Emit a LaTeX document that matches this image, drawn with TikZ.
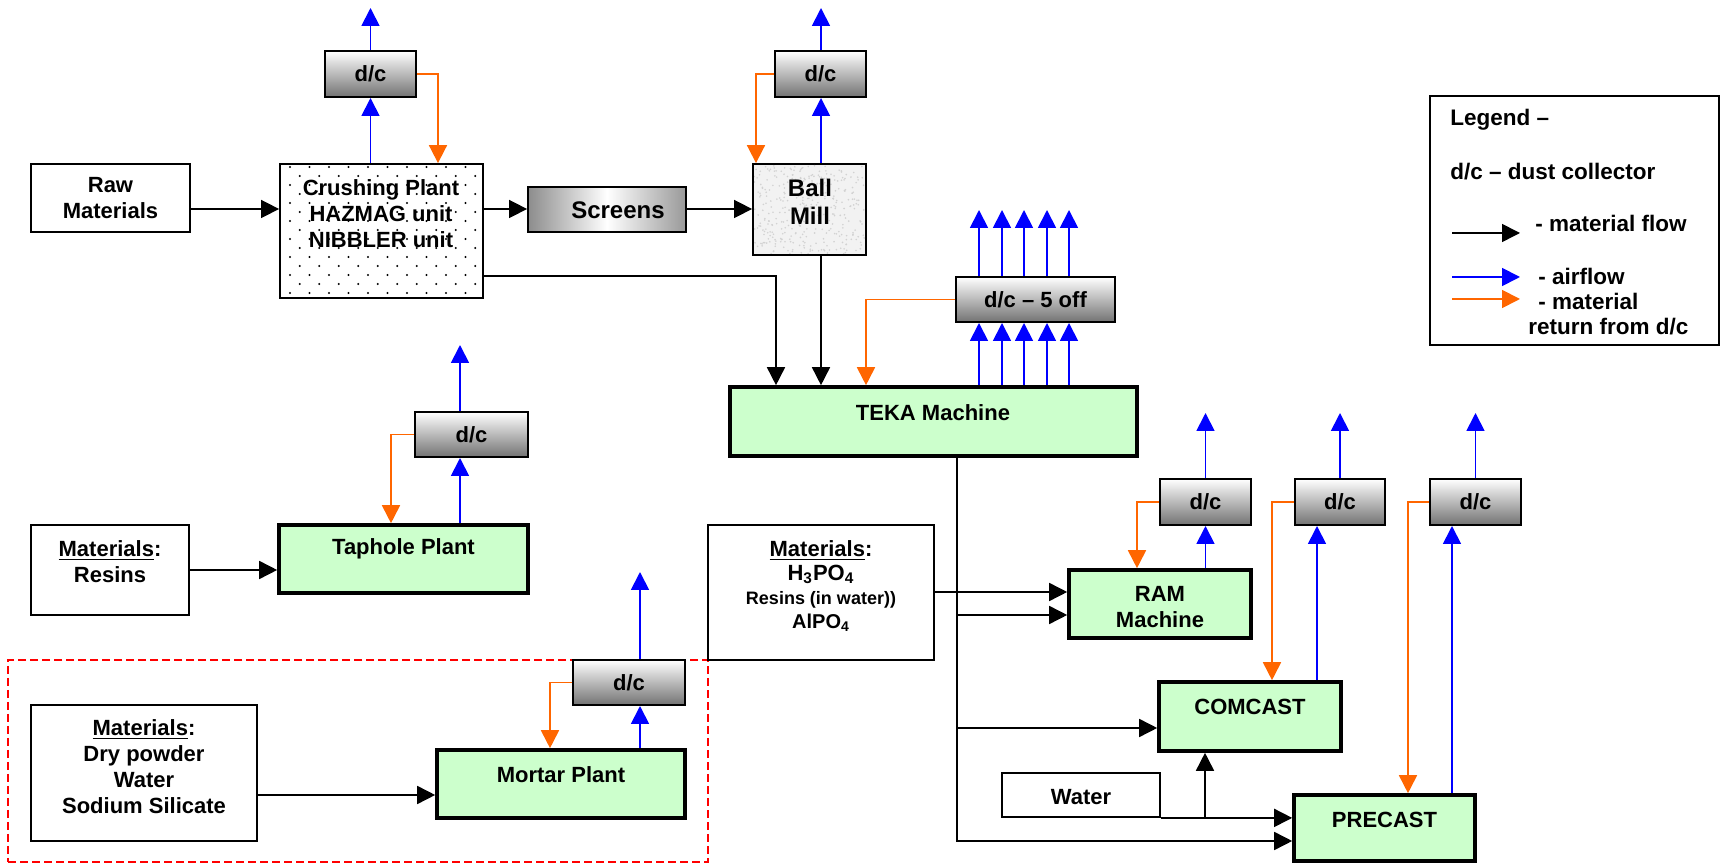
\documentclass[tikz,border=0pt]{standalone}
\usepackage{fontspec}
\setmainfont{Liberation Sans}
\usetikzlibrary{arrows.meta,fit}
\definecolor{grn}{HTML}{CCFFCC}
\definecolor{orng}{HTML}{FF6600}
\definecolor{airblue}{HTML}{0000FF}
\definecolor{dashred}{HTML}{FF0000}
\begin{document}
\begin{tikzpicture}[x=0.5pt,y=-0.5pt,
  every node/.style={font=\bfseries\fontsize{11}{13}\selectfont},
  bx/.style={draw, line width=0.9pt, inner sep=0pt},
  plant/.style={bx, fill=grn, line width=1.8pt},
  dcbox/.style={bx, line width=1pt, top color=white, bottom color=black!55},
  arrowtip/.style={-{Triangle[length=9pt,width=9pt]}},
  mflow/.style={arrowtip, draw=black, line width=0.8pt},
  air/.style={arrowtip, draw=airblue, line width=0.9pt},
  ret/.style={arrowtip, draw=orng, line width=0.9pt},
  big/.style={font=\bfseries\fontsize{12}{14}\selectfont},
  lgd/.style={anchor=west, inner sep=0pt, font=\bfseries\fontsize{11.25}{13}\selectfont}]
\useasboundingbox (0,0) rectangle (1721,865);

% level coordinates
\coordinate (top) at (0,8);
\coordinate (h209) at (0,209);
\coordinate (h210) at (0,210);
\coordinate (h276) at (0,276);
\coordinate (h345) at (0,345);
\coordinate (h413) at (0,413);
\coordinate (h570) at (0,570);
\coordinate (h572) at (0,572);
\coordinate (h592) at (0,592);
\coordinate (h615) at (0,615);
\coordinate (h728) at (0,728);
\coordinate (h795) at (0,795);
\coordinate (h841) at (0,841);
\coordinate (v391) at (391,0);
\coordinate (v438) at (438,0);
\coordinate (v460) at (460,0);
\coordinate (v550) at (550,0);
\coordinate (v640) at (640,0);
\coordinate (v756) at (756,0);
\coordinate (v776) at (776,0);
\coordinate (v821) at (821,0);
\coordinate (v866) at (866,0);
\coordinate (v957) at (957,0);
\coordinate (v1137) at (1137,0);
\coordinate (v1205) at (1205,0);
\coordinate (v1272) at (1272,0);
\coordinate (v1317) at (1317,0);
\coordinate (v1408) at (1408,0);
\coordinate (v1452) at (1452,0);

% ---------- top row ----------
\node[bx, fit={(31,164)(190,232)}] (raw) {};
\node[align=center] (rawT) at (raw.center) {Raw\\Materials};
\node[bx, fit={(280,164)(483,298)}] (crush) {};
\begin{scope}
  \clip (283,166) rectangle (480,296);
  \foreach \j in {0,...,14}{
    \foreach \i in {0,...,10}{
      \fill ({290+19.5*\i+mod(\j,2)*9.75},{167+9*\j}) circle (0.55pt);
    }
  }
\end{scope}
\node[align=center] (crushT) at (381,214) {Crushing Plant\\HAZMAG unit\\NIBBLER unit};
\node[dcbox, fit={(325,51)(416,97)}] (crushdc) {};
\node (crushdcT) at (crushdc.center) {d/c};

\node[bx, fit={(528,187)(686,232)}, left color=black!45, right color=black!40, middle color=white] (screens) {};
\node[big] (screensT) at (618,210) {Screens};

\node[bx, fit={(753,164)(866,255)}, fill=gray!10] (ball) {};
\begin{scope}
  \clip (754,165) rectangle (865,254);
  \pgfmathsetseed{7}
  \foreach \k in {1,...,350}{
    \pgfmathsetmacro\rx{754+111*rnd}
    \pgfmathsetmacro\ry{165+89*rnd}
    \fill[gray!35] (\rx,\ry) circle (0.45pt);
  }
\end{scope}
\node[big, align=center] (ballT) at (810,202) {Ball\\Mill};
\node[dcbox, fit={(775,51)(866,97)}] (balldc) {};
\node (balldcT) at (balldc.center) {d/c};

\node[dcbox, fit={(956,277)(1115,322)}] (dc5) {};
\node (dc5T) at (dc5.center) {d/c – 5 off};
\node[plant, fit={(730,387)(1137,456)}] (teka) {};
\node (tekaT) at (933,413) {TEKA Machine};

% top connectors
\draw[mflow] (raw.east |- h209) -- (crush.west |- h209);
\draw[mflow] (crush.east |- h209) -- (screens.west |- h209);
\draw[mflow] (screens.east |- h209) -- (ball.west |- h209);
\draw[mflow] (crush.east |- h276) -| (v776 |- teka.north);
\draw[mflow] (v821 |- ball.south) -- (v821 |- teka.north);
\draw[air] (crushdc.south |- crush.north) -- (crushdc.south);
\draw[air] (crushdc.north) -- (crushdc.north |- top);
\draw[ret] (crushdc.east) -| (v438 |- crush.north);
\draw[air] (v821 |- ball.north) -- (v821 |- balldc.south);
\draw[air] (v821 |- balldc.north) -- (v821 |- top);
\draw[ret] (balldc.west) -| (v756 |- ball.north);
\foreach \x [count=\n] in {979,1002,1024,1047,1069}{
  \coordinate (c\n) at (\x,0);
  \draw[air] (c\n |- teka.north) -- (c\n |- dc5.south);
  \draw[air] (c\n |- dc5.north) -- (c\n |- h210);
}
\draw[ret] (dc5.west) -| (v866 |- teka.north);

% ---------- legend ----------
\node[bx, fit={(1430,96)(1719,345)}] (legend) {};
\node[lgd] (lg1) at (1450,120) {Legend –};
\node[lgd] (lg2) at (1450,172) {d/c – dust collector};
\coordinate (la1) at (1452,233); \coordinate (lb1) at (1520,233);
\coordinate (la2) at (1452,277); \coordinate (lb2) at (1520,277);
\coordinate (la3) at (1452,299); \coordinate (lb3) at (1520,299);
\draw[mflow] (la1) -- (lb1);
\draw[air] (la2) -- (lb2);
\draw[ret] (la3) -- (lb3);
\node[lgd] (lg3) at (1535,223) {- material flow};
\node[lgd] (lg4) at (1538,276) {- airflow};
\node[lgd] (lg5) at (1538,301) {- material};
\node[lgd] (lg6) at (1528,327) {return from d/c};

% ---------- taphole ----------
\node[dcbox, fit={(415,412)(528,457)}] (tapdc) {};
\node (tapdcT) at (tapdc.center) {d/c};
\node[plant, fit={(279,525)(528,593)}] (tap) {};
\node (tapT) at (403.5,549) {Taphole Plant};
\node[bx, fit={(31,525)(189,615)}] (resins) {};
\node[align=center] (resT) at (110,561.5) {\underline{Materials}:\\Resins};
\draw[mflow] (resins.east |- h570) -- (tap.west |- h570);
\draw[air] (v460 |- tap.north) -- (v460 |- tapdc.south);
\draw[air] (v460 |- tapdc.north) -- (v460 |- h345);
\draw[ret] (tapdc.west) -| (v391 |- tap.north);

% ---------- mortar ----------
\node[draw=dashred, line width=0.9pt, dash pattern=on 4pt off 2pt, inner sep=0pt, fit={(8,660)(708,862)}] (zone) {};
\node[dcbox, fit={(573,660)(685,705)}] (mordc) {};
\node (mordcT) at (mordc.center) {d/c};
\node[plant, fit={(437,750)(685,818)}] (mortar) {};
\node (morT) at (561,775) {Mortar Plant};
\node[bx, fit={(31,705)(257,841)}] (dry) {};
\node[align=center] (dryT) at (144,767) {\underline{Materials}:\\Dry powder\\Water\\Sodium Silicate};
\draw[mflow] (dry.east |- h795) -- (mortar.west |- h795);
\draw[air] (v640 |- mortar.north) -- (v640 |- mordc.south);
\draw[air] (v640 |- mordc.north) -- (v640 |- h572);
\draw[ret] (mordc.west) -| (v550 |- mortar.north);

% ---------- right side ----------
\node[bx, fit={(708,525)(934,660)}] (hpo) {};
\node[align=center, font=\bfseries\fontsize{11}{12}\selectfont] (hpoT) at (821,586)
  {\underline{Materials}:\\H\textsubscript{3}PO\textsubscript{4}\\{\fontsize{9}{12}\selectfont Resins (in water))}\\{\fontsize{10}{12}\selectfont AlPO\textsubscript{4}}};

\node[plant, fit={(1069,570)(1251,638)}] (ram) {};
\node[align=center] (ramT) at (1160,607) {RAM\\Machine};
\node[dcbox, fit={(1160,479)(1251,525)}] (ramdc) {};
\node (ramdcT) at (ramdc.center) {d/c};
\node[plant, fit={(1159,682)(1341,751)}] (comcast) {};
\node (comT) at (1250,707) {COMCAST};
\node[dcbox, fit={(1295,479)(1385,525)}] (comdc) {};
\node (comdcT) at (comdc.center) {d/c};
\node[bx, fit={(1002,773)(1160,817)}] (water) {};
\node (waterT) at (1081,797) {Water};
\node[plant, fit={(1294,795)(1475,861)}] (precast) {};
\node (preT) at (1384.5,820) {PRECAST};
\node[dcbox, fit={(1430,479)(1521,525)}] (predc) {};
\node (predcT) at (predc.center) {d/c};

\draw[mflow] (v957 |- teka.south) |- (precast.west |- h841);
\draw[mflow] (hpo.east |- h592) -- (ram.west |- h592);
\draw[mflow] (v957 |- h615) -- (ram.west |- h615);
\draw[mflow] (v957 |- h728) -- (comcast.west |- h728);
\draw[mflow] (water.south east) -- (precast.west |- water.south);
\draw[mflow] (v1205 |- water.south) -- (v1205 |- comcast.south);

\draw[air] (ramdc.south |- ram.north) -- (ramdc.south);
\draw[air] (ramdc.north) -- (ramdc.north |- h413);
\draw[ret] (ramdc.west) -| (v1137 |- ram.north);
\draw[air] (v1317 |- comcast.north) -- (v1317 |- comdc.south);
\draw[air] (comdc.north) -- (comdc.north |- h413);
\draw[ret] (comdc.west) -| (v1272 |- comcast.north);
\draw[air] (v1452 |- precast.north) -- (v1452 |- predc.south);
\draw[air] (predc.north) -- (predc.north |- h413);
\draw[ret] (predc.west) -| (v1408 |- precast.north);
\end{tikzpicture}
\end{document}
